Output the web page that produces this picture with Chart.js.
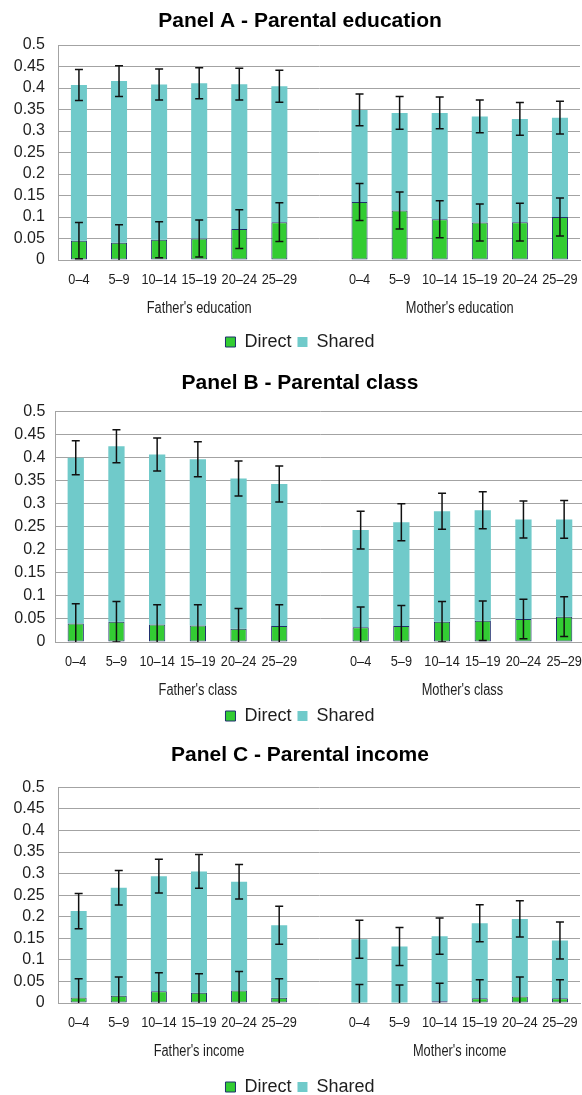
<!DOCTYPE html>
<html>
<head>
<meta charset="utf-8">
<script src="https://cdn.jsdelivr.net/npm/chart.js@4.4.1/dist/chart.umd.min.js"></script>
<style>
  html, body { margin: 0; padding: 0; background: #fff; overflow: hidden; width: 582px; height: 1095px; }
  canvas { position: absolute; left: 0; }
</style>
</head>
<body>
<canvas id="panelA"></canvas>
<canvas id="panelB"></canvas>
<canvas id="panelC"></canvas>
<script>
// Age bands of the child, repeated for the father and mother groups
const ageBands = ['0–4', '5–9', '10–14', '15–19', '20–24', '25–29'];
const seriesNames = ['Direct', 'Shared'];

// Panel A - Parental education (father's six bands, then mother's six)
const eduDirect     = [0.045, 0.040, 0.047, 0.050, 0.072, 0.088, 0.135, 0.115, 0.095, 0.087, 0.088, 0.100];
const eduDirectErr  = [0.042, 0.042, 0.042, 0.043, 0.045, 0.045, 0.043, 0.043, 0.043, 0.043, 0.044, 0.044];
const eduShared     = [0.362, 0.376, 0.361, 0.361, 0.337, 0.316, 0.214, 0.227, 0.247, 0.247, 0.240, 0.231];
const eduTotalErr   = [0.036, 0.036, 0.036, 0.036, 0.037, 0.037, 0.037, 0.038, 0.037, 0.038, 0.038, 0.038];
const eduGroups     = ["Father's education", "Mother's education"];

// Panel B - Parental class
const classDirect    = [0.040, 0.044, 0.038, 0.036, 0.029, 0.035, 0.032, 0.035, 0.044, 0.046, 0.050, 0.055];
const classDirectErr = [0.043, 0.044, 0.043, 0.045, 0.044, 0.046, 0.044, 0.044, 0.044, 0.043, 0.043, 0.043];
const classShared    = [0.360, 0.381, 0.369, 0.361, 0.326, 0.308, 0.211, 0.225, 0.240, 0.240, 0.216, 0.211];
const classTotalErr  = [0.037, 0.036, 0.036, 0.038, 0.038, 0.039, 0.041, 0.040, 0.039, 0.040, 0.040, 0.041];
const classGroups    = ["Father's class", "Mother's class"];

// Panel C - Parental income
const incomeDirect    = [0.013, 0.017, 0.027, 0.024, 0.029, 0.012, 0.001, 0.000, 0.004, 0.011, 0.015, 0.011];
const incomeDirectErr = [0.043, 0.043, 0.043, 0.044, 0.044, 0.044, 0.042, 0.042, 0.042, 0.043, 0.045, 0.043];
const incomeShared    = [0.200, 0.250, 0.267, 0.281, 0.252, 0.168, 0.147, 0.131, 0.151, 0.174, 0.180, 0.134];
const incomeTotalErr  = [0.041, 0.040, 0.039, 0.039, 0.040, 0.044, 0.044, 0.044, 0.042, 0.043, 0.042, 0.043];
const incomeGroups    = ["Father's income", "Mother's income"];

const yTicks = [0, 0.05, 0.1, 0.15, 0.2, 0.25, 0.3, 0.35, 0.4, 0.45, 0.5];

// An empty slot separates the father and mother groups
const withGap = arr => [...arr.slice(0, 6), null, ...arr.slice(6)];
const categories = [...ageBands, '', ...ageBands];

const GREEN = '#33cc33';
const NAVY = '#1f2f6e';
const TEAL = '#70caca';
const GRID = '#a3a3a3';
const TEXT = '#1e1e1e';
const SANS = '"Liberation Sans", Arial, sans-serif';

// Whiskers for the Direct bar and for the top of the stack
const errorBars = {
  id: 'errorBars',
  afterDatasetsDraw(chart, args, opts) {
    const { ctx, chartArea } = chart;
    const x = chart.scales.x, y = chart.scales.y;
    const direct = chart.data.datasets[0].data;
    const shared = chart.data.datasets[1].data;
    ctx.save();
    ctx.beginPath();
    ctx.rect(chartArea.left, chartArea.top - 2, chartArea.right - chartArea.left, chartArea.bottom - chartArea.top + 2);
    ctx.clip();
    ctx.strokeStyle = '#111';
    ctx.lineWidth = 1.5;
    const cap = 4;
    const whisker = (px, v, e) => {
      const top = y.getPixelForValue(v + e);
      const bot = y.getPixelForValue(v - e);
      ctx.beginPath();
      ctx.moveTo(px, top); ctx.lineTo(px, bot);
      ctx.moveTo(px - cap, top); ctx.lineTo(px + cap, top);
      ctx.moveTo(px - cap, bot); ctx.lineTo(px + cap, bot);
      ctx.stroke();
    };
    direct.forEach((d, i) => {
      if (d === null) return;
      const px = x.getPixelForValue(i);
      whisker(px, d, opts.directErr[i]);
      whisker(px, d + shared[i], opts.totalErr[i]);
    });
    ctx.restore();
  }
};

// Condensed category text: age-band ticks and the group caption beneath them
const categoryText = {
  id: 'categoryText',
  afterDraw(chart, args, opts) {
    const { ctx, chartArea } = chart;
    const x = chart.scales.x;
    ctx.save();
    ctx.fillStyle = TEXT;
    ctx.textAlign = 'center';
    ctx.textBaseline = 'middle';
    const put = (text, px, py, size, squeeze) => {
      ctx.save();
      ctx.font = size + 'px ' + SANS;
      ctx.translate(px, py);
      ctx.scale(squeeze, 1);
      ctx.fillText(text, 0, 0);
      ctx.restore();
    };
    chart.data.labels.forEach((lab, i) => {
      if (lab) put(lab, x.getPixelForValue(i), chartArea.bottom + opts.tickOffset, 15, 0.85);
    });
    const gy = chartArea.bottom + opts.groupOffset;
    put(opts.groups[0], (x.getPixelForValue(0) + x.getPixelForValue(6)) / 2, gy, 16, 0.8);
    put(opts.groups[1], (x.getPixelForValue(7) + x.getPixelForValue(12)) / 2, gy, 16, 0.8);
    ctx.restore();
  }
};

// Centre the title and legend on a given x instead of on the padded box
const recenter = {
  id: 'recenter',
  afterLayout(chart, args, opts) {
    [chart.titleBlock, chart.legend].forEach(b => {
      if (b) b.left = 2 * opts.center - b.right;
    });
  }
};

function makePanel(id, title, direct, directErr, shared, totalErr, groups, box) {
  const W = 600;
  const canvas = document.getElementById(id);
  const canvasTop = box.titleC - 21;
  const height = Math.round(box.legendC + 22 - canvasTop);
  canvas.width = W; canvas.height = height;
  canvas.style.width = W + 'px'; canvas.style.height = height + 'px';
  canvas.style.top = canvasTop + 'px';

  const padL = 2;
  const padR = W - box.right;
  const titleLine = 25;

  new Chart(canvas, {
    type: 'bar',
    data: {
      labels: categories,
      datasets: [
        {
          label: seriesNames[0],
          data: withGap(direct),
          backgroundColor: GREEN,
          borderColor: NAVY,
          borderWidth: 1,
          borderSkipped: false,
          stack: 's'
        },
        {
          label: seriesNames[1],
          data: withGap(shared),
          backgroundColor: TEAL,
          borderWidth: 0,
          stack: 's'
        }
      ]
    },
    options: {
      responsive: false,
      animation: false,
      devicePixelRatio: 1,
      layout: { padding: { left: padL, right: padR, top: 0, bottom: 3 } },
      datasets: { bar: { categoryPercentage: 1, barPercentage: 0.4 } },
      scales: {
        x: {
          stacked: true,
          grid: { display: false, drawTicks: false },
          border: { display: true, color: GRID, width: 1 },
          ticks: { display: false },
          afterFit(scale) { scale.height = box.legendC - 15 - box.bottom; }
        },
        y: {
          stacked: true,
          min: 0,
          max: 0.5,
          afterBuildTicks(scale) { scale.ticks = yTicks.map(v => ({ value: v })); },
          grid: { color: GRID, lineWidth: 1, drawTicks: false },
          border: { display: true, color: GRID, width: 1 },
          ticks: {
            autoSkip: false,
            padding: box.yPad,
            color: TEXT,
            font: { family: SANS, size: 16 },
            callback: v => String(+v.toFixed(2))
          },
          afterFit(scale) { scale.width = box.left - padL; }
        }
      },
      plugins: {
        title: {
          display: true,
          text: title,
          color: '#000',
          font: { family: SANS, size: 21, weight: 'bold', lineHeight: 25 / 21 },
          padding: { top: box.titleC - canvasTop - titleLine / 2, bottom: box.top - box.titleC - titleLine / 2 }
        },
        legend: {
          display: true,
          position: 'bottom',
          labels: {
            color: TEXT,
            boxWidth: 10,
            boxHeight: 10,
            padding: 6,
            font: { family: SANS, size: 18 }
          }
        },
        tooltip: { enabled: false },
        recenter: { center: 300 },
        errorBars: { directErr: withGap(directErr), totalErr: withGap(totalErr) },
        categoryText: { groups: groups, tickOffset: box.tickC - box.bottom, groupOffset: box.groupC - box.bottom }
      }
    },
    plugins: [recenter, errorBars, categoryText]
  });
}

makePanel('panelA', 'Panel A - Parental education', eduDirect, eduDirectErr, eduShared, eduTotalErr, eduGroups,
  { titleC: 21, top: 45, bottom: 260, tickC: 280, groupC: 309, legendC: 342, left: 58.9, right: 580, yPad: 14 });
makePanel('panelB', 'Panel B - Parental class', classDirect, classDirectErr, classShared, classTotalErr, classGroups,
  { titleC: 383, top: 411.7, bottom: 642, tickC: 662, groupC: 691, legendC: 716, left: 55.4, right: 584.5, yPad: 10 });
makePanel('panelC', 'Panel C - Parental income', incomeDirect, incomeDirectErr, incomeShared, incomeTotalErr, incomeGroups,
  { titleC: 755, top: 787.3, bottom: 1003, tickC: 1023, groupC: 1052, legendC: 1087, left: 58.6, right: 580, yPad: 14 });
</script>
</body>
</html>
